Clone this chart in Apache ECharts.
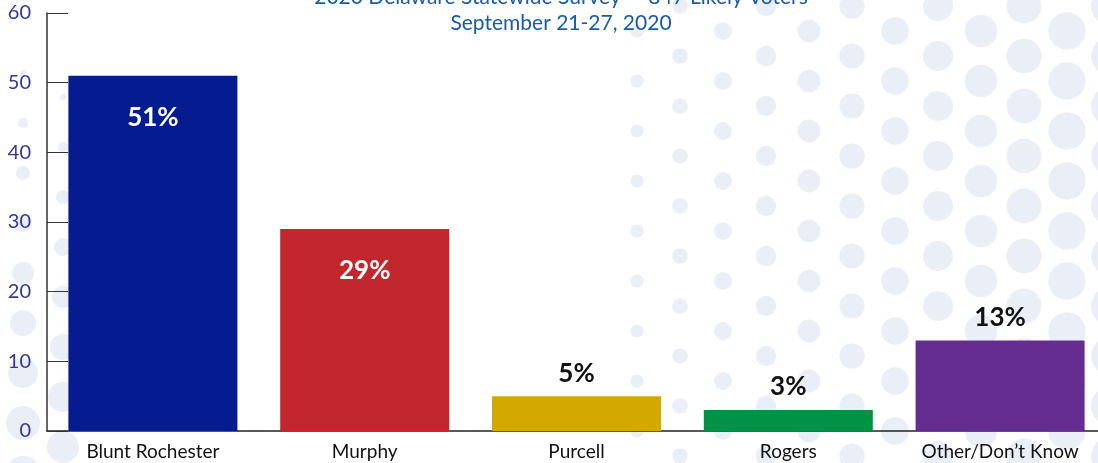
<!DOCTYPE html>
<html>
<head>
<meta charset="utf-8">
<script src="https://cdn.jsdelivr.net/npm/echarts@6/dist/echarts.min.js"></script>
<style>
  html, body { margin: 0; padding: 0; background: #fff; }
  #wrap { position: relative; width: 1098px; height: 463px; overflow: hidden; }
  #bg { position: absolute; left: 0; top: 0; width: 1098px; height: 463px; }
  /* chart is a bit wider than the page: the x axis runs past the right edge */
  #chart { position: absolute; left: 0; top: 0; width: 1130px; height: 463px; }
</style>
</head>
<body>
<div id="wrap">
  <canvas id="bg" width="1098" height="463"></canvas>
  <div id="chart"></div>
</div>
<script>
const categories = ['Blunt Rochester', 'Murphy', 'Purcell', 'Rogers', 'Other/Don\u2019t Know']
const values = [51, 29, 5, 3, 13]
const barColors = ['#041c90', '#c1272d', '#d3a800', '#009245', '#662d91']
const yTicks = [0, 10, 20, 30, 40, 50, 60]

// decorative dot pattern behind the chart (not data)
const drawDots = () => {
  const ctx = document.getElementById('bg').getContext('2d')
  ctx.fillStyle = '#eaeff7'
  const dot = (x, y, r) => {
    if (r <= 0.5) return
    ctx.beginPath()
    ctx.arc(x, y, r, 0, Math.PI * 2)
    ctx.fill()
  }
  // right side: columns get bigger towards the right edge
  for (let k = -2; k < 11; k++) {
    const x = 723 + 43 * k
    const r = Math.min(19, 9 + (x - 723) * 0.028)
    const off = k % 2 === 0 ? 31 : 6
    for (let y = off - 50; y < 500; y += 50) dot(x, y, r)
  }
  // left side: columns get bigger towards the bottom
  for (let y = 73; y < 500; y += 50) dot(23, y, Math.min(17, 3 + (y - 73) * 0.04))
  for (let y = 97; y < 500; y += 50) dot(63, y, Math.min(16, 3 + (y - 97) * 0.04))
}
drawDots()

const chart = echarts.init(document.getElementById('chart'))

const option = {
  backgroundColor: 'transparent',
  animation: false,
  title: {
    text: '2020 Delaware Statewide Survey \u2014 847 Likely Voters\nSeptember 21-27, 2020',
    left: 556,
    textAlign: 'center',
    top: -21,
    textStyle: {
      color: '#1a5ba6',
      fontFamily: 'Lato',
      fontWeight: 'normal',
      fontSize: 21,
      lineHeight: 26
    }
  },
  grid: {
    left: 47,
    top: 13,
    width: 1059,
    height: 418
  },
  xAxis: {
    type: 'category',
    data: categories,
    axisLine: { lineStyle: { color: '#222', width: 1.5 } },
    axisTick: { inside: true, length: 10, lineStyle: { color: '#444' } },
    axisLabel: {
      color: '#111',
      fontFamily: 'Lato',
      fontSize: 19,
      margin: 11
    }
  },
  yAxis: {
    type: 'value',
    min: yTicks[0],
    max: yTicks[yTicks.length - 1],
    interval: 10,
    axisLine: { show: true, lineStyle: { color: '#333', width: 1.5 } },
    axisTick: { show: true, inside: true, length: 21, lineStyle: { color: '#333' } },
    splitLine: { show: false },
    axisLabel: {
      color: '#33379a',
      fontFamily: 'Lato',
      fontSize: 20,
      margin: 16
    }
  },
  series: [
    {
      type: 'bar',
      barWidth: '79.8%',
      data: values.map((v, i) => {
        const inside = v > 20
        return {
          value: v,
          itemStyle: { color: barColors[i] },
          label: {
            show: true,
            position: inside ? 'insideTop' : 'top',
            distance: inside ? 29 : 10,
            color: inside ? '#fff' : '#111',
            fontFamily: 'Lato',
            fontWeight: 'bold',
            fontSize: 26,
            formatter: '{c}%'
          }
        }
      })
    }
  ]
}

chart.setOption(option)
window.addEventListener('resize', () => chart.resize())
</script>
</body>
</html>
